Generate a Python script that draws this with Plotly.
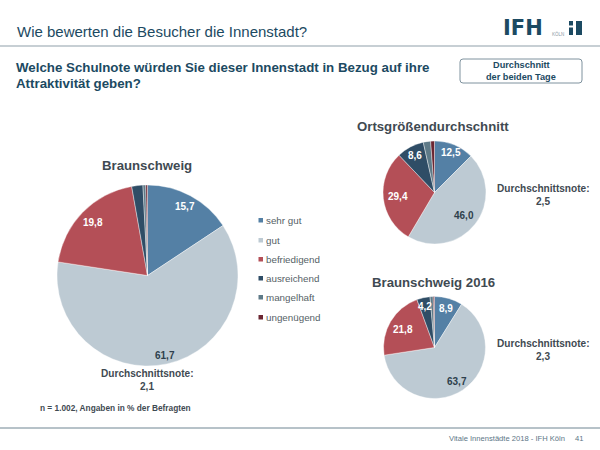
import math
import plotly.graph_objects as go

W, H = 600, 450

categories = ["sehr gut", "gut", "befriedigend", "ausreichend", "mangelhaft", "ungenügend"]
colors = ["#5480a5", "#bdcad3", "#b44f57", "#2f4d66", "#5e7a88", "#6b2632"]

braunschweig = [15.7, 61.7, 19.8, 2.0, 0.5, 0.3]
ortsgroesse = [12.5, 46.0, 29.4, 8.6, 2.3, 1.2]
braunschweig_2016 = [8.9, 63.7, 21.8, 4.2, 1.0, 0.4]

braunschweig_labels = ["15,7", "61,7", "19,8", "", "", ""]
ortsgroesse_labels = ["12,5", "46,0", "29,4", "8,6", "", ""]
braunschweig_2016_labels = ["8,9", "63,7", "21,8", "4,2", "", ""]

label_colors = ["white", "#2e3f4c", "white", "white", "white", "white"]

DARK = "#1c4a62"
GREY_TEXT = "#3f4a52"
FONT = "Liberation Sans"

fig = go.Figure()


def px_x(x):
    return x / W


def px_y(y):
    return 1 - y / H


def add_text(text, x, y, size, color=GREY_TEXT, bold=False, anchor="center", family=FONT):
    if bold:
        text = "<b>" + text + "</b>"
    fig.add_annotation(text=text, x=px_x(x), y=px_y(y), xref="paper", yref="paper",
                       xanchor=anchor, yanchor="middle", showarrow=False, align=anchor,
                       font=dict(family=family, size=size, color=color))


def add_pie(values, labels, cx, cy, r, radial):
    fig.add_trace(go.Pie(
        values=values, labels=categories, sort=False, direction="clockwise", rotation=0,
        textinfo="none", hoverinfo="label+value", showlegend=False,
        marker=dict(colors=colors, line=dict(color="white", width=0.4)),
        domain=dict(x=[px_x(cx - r), px_x(cx + r)], y=[px_y(cy + r), px_y(cy - r)])))
    # value labels sit on the mid angle of their slice
    total = sum(values)
    start = 0
    for val, lab, col, frac in zip(values, labels, label_colors, radial):
        mid = (start + val / 2) / total * 2 * math.pi
        start += val
        if lab:
            add_text(lab, cx + frac * r * math.sin(mid), cy - frac * r * math.cos(mid),
                     10, color=col, bold=True)


add_pie(braunschweig, braunschweig_labels, 147.5, 275.5, 90.5, [0.87, 0.9, 0.84, 0, 0, 0])
add_pie(ortsgroesse, ortsgroesse_labels, 434.5, 192.5, 51.5, [0.84, 0.72, 0.72, 0.82, 0, 0])
add_pie(braunschweig_2016, braunschweig_2016_labels, 434.5, 347.5, 51, [0.8, 0.8, 0.71, 0.82, 0, 0])

# slide frame
fig.add_shape(type="line", x0=0, x1=600, y0=46, y1=46, xref="x", yref="y",
              line=dict(color="#8fa0aa", width=1.2))
fig.add_shape(type="line", x0=0, x1=600, y0=428, y1=428, xref="x", yref="y",
              line=dict(color="#6f8592", width=1))
fig.add_shape(type="path", xref="x", yref="y", fillcolor="white",
              line=dict(color="#7f929e", width=1),
              path="M 463 59 L 579 59 Q 582 59 582 62 L 582 80 Q 582 83 579 83 "
                   "L 463 83 Q 460 83 460 80 L 460 62 Q 460 59 463 59 Z")

# logo blocks
for x0, x1, y0, y1 in [(569, 573, 21, 25.5), (569, 573, 27.5, 35), (576, 582, 21, 35)]:
    fig.add_shape(type="rect", xref="x", yref="y", x0=x0, x1=x1, y0=y0, y1=y1,
                  fillcolor=DARK, line=dict(width=0))

# legend
legend_y = [220, 240, 259, 278, 297, 317]
for name, col, y in zip(categories, colors, legend_y):
    fig.add_shape(type="rect", xref="x", yref="y", x0=258.5, x1=263, y0=y - 2, y1=y + 2.5,
                  fillcolor=col, line=dict(width=0))
    add_text(name, 264, y, 9.8, color="#555f66", anchor="left")

add_text("Wie bewerten die Besucher die Innenstadt?", 15, 31, 15, color=DARK, anchor="left")
add_text("IFH", 522.5, 28, 21, color=DARK, bold=True, family="DejaVu Sans")
add_text("KÖLN", 558, 34, 4.5, color="#8a9aa4")
add_text("Welche Schulnote würden Sie dieser Innenstadt in Bezug auf ihre", 14, 68, 13.3, color=DARK, bold=True, anchor="left")
add_text("Attraktivität geben?", 14, 84, 13.3, color=DARK, bold=True, anchor="left")
add_text("Durchschnitt", 521, 65, 9.2, color=DARK, bold=True)
add_text("der beiden Tage", 521, 77, 9.2, color=DARK, bold=True)

add_text("Braunschweig", 147, 165, 13.2, bold=True)
add_text("Ortsgrößendurchschnitt", 433, 126, 13.2, bold=True)
add_text("Braunschweig 2016", 433, 282, 13.2, bold=True)

add_text("Durchschnittsnote:", 147, 373, 10.1, bold=True)
add_text("2,1", 147, 386, 10.1, bold=True)
add_text("Durchschnittsnote:", 543, 188, 10.1, bold=True)
add_text("2,5", 543, 201, 10.1, bold=True)
add_text("Durchschnittsnote:", 543, 343, 10.1, bold=True)
add_text("2,3", 543, 356, 10.1, bold=True)
add_text("n = 1.002, Angaben in % der Befragten", 38, 408, 8.3, bold=True, anchor="left")

add_text("Vitale Innenstädte 2018 - IFH Köln", 447, 438, 7.6, color="#5c7686", anchor="left")
add_text("41", 573, 438, 7.6, color="#5c7686", anchor="left")

fig.update_layout(
    width=W, height=H, margin=dict(l=0, r=0, t=0, b=0), autosize=False,
    paper_bgcolor="white", plot_bgcolor="rgba(0,0,0,0)", showlegend=False,
    xaxis=dict(range=[0, W], visible=False, fixedrange=True),
    yaxis=dict(range=[H, 0], visible=False, fixedrange=True))

# the page's default body margin would push the slide out of the window
fig.write_html("out.html", config=dict(displayModeBar=False),
               post_script="document.body.style.margin='0';")
